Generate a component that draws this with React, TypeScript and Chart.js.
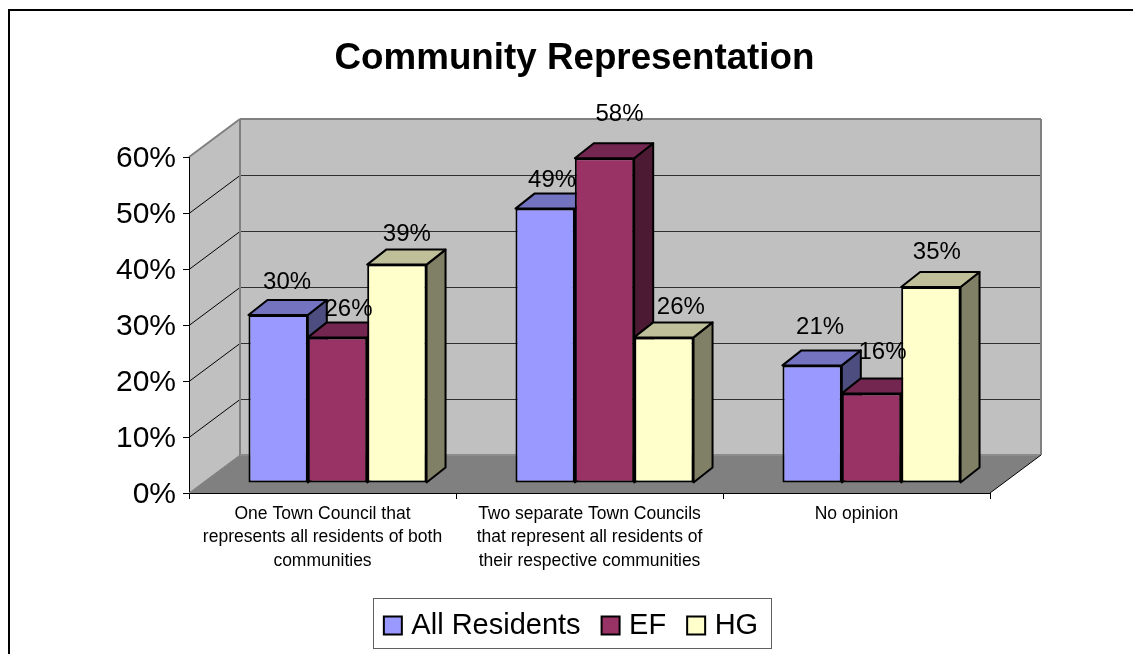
import React, { useEffect, useRef } from "react";
import { Chart, registerables } from "chart.js";

Chart.register(...registerables);

const FONT = "'Liberation Sans', Arial, sans-serif";

const categories = [
  ["One Town Council that", "represents all residents of both", "communities"],
  ["Two separate Town Councils", "that represent all residents of", "their respective communities"],
  ["No opinion"],
];
const allResidents = [30, 49, 21];
const ef = [26, 58, 16];
const hg = [39, 26, 35];
const yTicksMax = 60;
const yTickStep = 10;

const seriesStyles = [
  { front: "#9999FF", top: "#7373BF", side: "#4D4D80" },
  { front: "#993366", top: "#732650", side: "#4D1A33" },
  { front: "#FFFFCC", top: "#BFBF99", side: "#808066" },
];

// depth geometry of the fake 3D box
const WALL_DX = 51;
const WALL_DY = 38;
const BAR_SHIFT_X = 15;
const BAR_SHIFT_Y = -10;
const BAR_DX = 19;
const BAR_DY = 15;

// small per-label nudges relative to each bar (series, category)
const labelNudges = [
  [[-1, -1], [-3, 4], [-2, -6]],
  [[1, 4], [5, -12], [1, -9]],
  [[0, 2], [7, 2], [-4, -3]],
];

function poly(ctx: CanvasRenderingContext2D, pts: number[][], fill?: string, stroke?: string, lw = 1) {
  ctx.beginPath();
  pts.forEach((p, i) => (i ? ctx.lineTo(p[0], p[1]) : ctx.moveTo(p[0], p[1])));
  ctx.closePath();
  if (fill) {
    ctx.fillStyle = fill;
    ctx.fill();
  }
  if (stroke) {
    ctx.strokeStyle = stroke;
    ctx.lineWidth = lw;
    ctx.lineJoin = "round";
    ctx.stroke();
  }
}

function line(ctx: CanvasRenderingContext2D, x1: number, y1: number, x2: number, y2: number, color: string, lw: number) {
  ctx.beginPath();
  ctx.moveTo(x1, y1);
  ctx.lineTo(x2, y2);
  ctx.strokeStyle = color;
  ctx.lineWidth = lw;
  ctx.stroke();
}

const box3d = {
  id: "box3d",
  afterLayout(chart: any) {
    // move the legend to its place below the plot
    const legend = chart.legend;
    const dx = -1;
    const dy = -3;
    legend.left += dx;
    legend.right += dx;
    legend.top += dy;
    legend.bottom += dy;
    legend.legendHitBoxes.forEach((b: any) => {
      b.left += dx;
      b.top += dy;
    });
  },
  beforeDatasetsDraw(chart: any) {
    const { ctx, chartArea: a, scales } = chart;
    const y = scales.y;
    const L = a.left, R = a.right, T = a.top, B = a.bottom;
    ctx.save();
    // walls and floor
    poly(ctx, [[L + WALL_DX, T - WALL_DY], [R + WALL_DX, T - WALL_DY], [R + WALL_DX, B - WALL_DY], [L + WALL_DX, B - WALL_DY]], "#C0C0C0");
    poly(ctx, [[L, T], [L + WALL_DX, T - WALL_DY], [L + WALL_DX, B - WALL_DY], [L, B]], "#C0C0C0");
    // gridlines
    for (let v = yTickStep; v < yTicksMax; v += yTickStep) {
      const py = Math.round(y.getPixelForValue(v)) + 0.5;
      line(ctx, L, py, L + WALL_DX, py - WALL_DY, "#000000", 1);
      line(ctx, L + WALL_DX, py - WALL_DY, R + WALL_DX, py - WALL_DY, "#303030", 1);
    }
    poly(ctx, [[L, B], [L + WALL_DX, B - WALL_DY], [R + WALL_DX, B - WALL_DY], [R, B]], "#808080");
    // wall outlines
    line(ctx, L, T, L + WALL_DX, T - WALL_DY, "#808080", 2);
    line(ctx, L + WALL_DX, T - WALL_DY, R + WALL_DX, T - WALL_DY, "#808080", 2);
    line(ctx, L + WALL_DX, T - WALL_DY, L + WALL_DX, B - WALL_DY, "#808080", 2);
    line(ctx, R + WALL_DX, T - WALL_DY, R + WALL_DX, B - WALL_DY, "#808080", 2);
    line(ctx, L + WALL_DX, B - WALL_DY, R + WALL_DX, B - WALL_DY, "#8C8C8C", 2);
    // front axis lines
    line(ctx, L + 0.5, T, L + 0.5, B, "#000000", 1);
    line(ctx, L, B + 0.5, R, B + 0.5, "#000000", 1);
    line(ctx, L, B, L + WALL_DX, B - WALL_DY, "#808080", 1);
    line(ctx, R, B, R + WALL_DX, B - WALL_DY, "#000000", 1);

    // bars, left to right
    ctx.translate(BAR_SHIFT_X, BAR_SHIFT_Y);
    const metas = chart.data.datasets.map((_: any, i: number) => chart.getDatasetMeta(i));
    categories.forEach((_, c) => {
      metas.forEach((meta: any, s: number) => {
        const el = meta.data[c];
        const st = seriesStyles[s];
        const x0 = el.x - el.width / 2;
        const x1 = el.x + el.width / 2;
        const top = el.y;
        const base = el.base;
        poly(ctx, [[x1, top], [x1 + BAR_DX, top - BAR_DY], [x1 + BAR_DX, base - BAR_DY], [x1, base]], st.side, "#000000", 2);
        poly(ctx, [[x0, top], [x0 + BAR_DX, top - BAR_DY], [x1 + BAR_DX, top - BAR_DY], [x1, top]], st.top, "#000000", 2);
        el.draw(ctx);
      });
    });
    ctx.translate(-BAR_SHIFT_X, -BAR_SHIFT_Y);

    // value labels
    ctx.font = `24px ${FONT}`;
    ctx.fillStyle = "#000000";
    ctx.textAlign = "center";
    ctx.textBaseline = "middle";
    metas.forEach((meta: any, s: number) => {
      meta.data.forEach((el: any, c: number) => {
        const v = chart.data.datasets[s].data[c];
        const [nx, ny] = labelNudges[s][c];
        ctx.fillText(`${v}%`, el.x + BAR_SHIFT_X + 10 + nx, el.y + BAR_SHIFT_Y - 32 + ny);
      });
    });
    ctx.restore();
    return false;
  },
  afterDraw(chart: any) {
    const { ctx, legend } = chart;
    ctx.save();
    // chart frame: only the left and top edges fall inside the picture
    ctx.strokeStyle = "#000000";
    ctx.lineWidth = 2;
    ctx.strokeRect(9, 10, 1140, 680);
    // legend frame
    const boxes = legend.legendHitBoxes;
    const first = boxes[0];
    const last = boxes[boxes.length - 1];
    const cy = first.top + first.height / 2;
    const fx = Math.round(first.left - 15.5) + 0.5;
    ctx.strokeStyle = "#606060";
    ctx.lineWidth = 1;
    ctx.strokeRect(fx, Math.round(cy - 25) + 0.5, Math.round(last.left + last.width + 13 - fx), 50);
    ctx.restore();
  },
};

export default function App() {
  const ref = useRef<HTMLCanvasElement>(null);
  useEffect(() => {
    const chart = new Chart(ref.current as HTMLCanvasElement, {
      type: "bar",
      data: {
        labels: categories as any,
        datasets: [
          { label: "All Residents", data: allResidents },
          { label: "EF", data: ef },
          { label: "HG", data: hg },
        ].map((d, i) => ({
          ...d,
          backgroundColor: seriesStyles[i].front,
          borderColor: "#000000",
          borderWidth: 2,
          borderSkipped: false,
          categoryPercentage: 0.667,
          barPercentage: 1,
        })),
      },
      options: {
        responsive: false,
        animation: false,
        layout: { padding: { left: 20, right: 4, top: 0, bottom: 1 } },
        scales: {
          x: {
            grid: { drawOnChartArea: false, tickLength: 6, color: "#000000" },
            border: { color: "#000000" },
            ticks: {
              color: "#000000",
              padding: 4,
              maxRotation: 0,
              autoSkip: false,
              font: { family: FONT, size: 17.5, lineHeight: 1.32 },
            },
            afterFit: (s: any) => {
              s.height = 95;
            },
          },
          y: {
            min: 0,
            max: yTicksMax,
            grid: { drawOnChartArea: false, tickLength: 6, color: "#000000" },
            border: { color: "#000000" },
            ticks: {
              stepSize: yTickStep,
              color: "#000000",
              padding: 7,
              labelOffset: 2,
              font: { family: FONT, size: 30 },
              callback: (v: any) => `${v}%`,
            },
            afterFit: (s: any) => {
              s.width = 169;
            },
          },
          spacer: {
            type: "linear",
            position: "right",
            display: true,
            grid: { display: false },
            border: { display: false },
            ticks: { display: false },
            afterFit: (s: any) => {
              s.width = 139;
            },
          },
        } as any,
        plugins: {
          tooltip: { enabled: false },
          title: {
            display: true,
            text: "Community Representation",
            color: "#000000",
            font: { family: FONT, size: 36.75, weight: "bold", lineHeight: 1.2 },
            padding: { top: 37, bottom: 75.9 },
          },
          legend: {
            position: "bottom",
            labels: {
              color: "#000000",
              usePointStyle: true,
              pointStyle: "rect",
              boxWidth: 8,
              boxHeight: 18,
              padding: 26,
              font: { family: FONT, size: 29, lineHeight: 1 },
            },
          },
        },
      },
      plugins: [box3d as any],
    });
    return () => chart.destroy();
  }, []);
  return (
    <div style={{ position: "fixed", left: 0, top: 0, width: 1133, height: 654, background: "#fff" }}>
      <canvas ref={ref} width={1133} height={654} style={{ display: "block" }} />
    </div>
  );
}
